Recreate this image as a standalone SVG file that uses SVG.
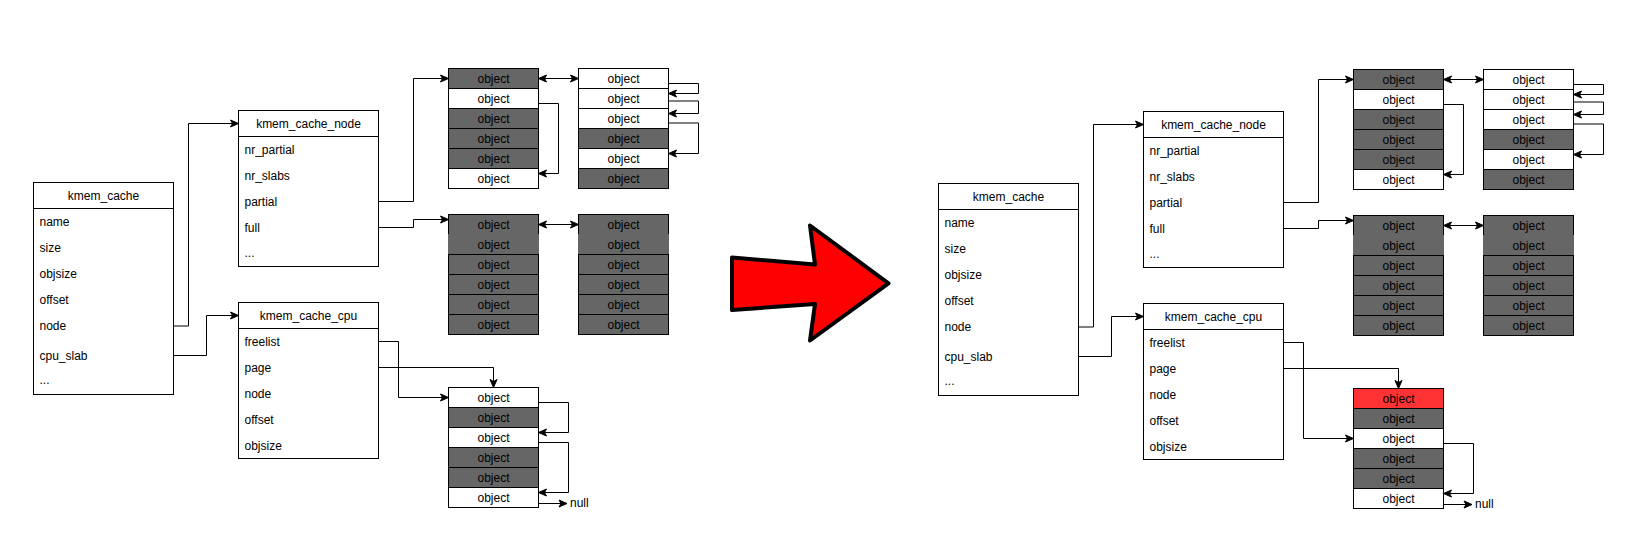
<svg xmlns="http://www.w3.org/2000/svg" width="1636" height="544" viewBox="0 0 1636 544">
<defs>
<style>
.bx{fill:#fff;stroke:#000;stroke-width:1}
.t{font-family:"Liberation Sans",Arial,Helvetica,sans-serif;font-size:12px;fill:#000}
.c{text-anchor:middle}
.w{fill:#fff;stroke:#000;stroke-width:1}
.g{fill:#666666;stroke:#000;stroke-width:1}
.gn{fill:#666666;stroke:none}
.r{fill:#ff3333;stroke:#000;stroke-width:1}
.e{fill:none;stroke:#000;stroke-width:1}
.a{marker-end:url(#ah)}
.d{marker-start:url(#ah);marker-end:url(#ah)}
</style>
<marker id="ah" viewBox="0 0 10 10" refX="9" refY="5" markerWidth="10" markerHeight="10" markerUnits="userSpaceOnUse" orient="auto-start-reverse">
<path d="M1,1.5 L9,5 L1,8.5 L3,5 Z" fill="#000" stroke="#000" stroke-width="1"/>
</marker>
</defs>
<rect width="1636" height="544" fill="#fff"/>

<!-- LEFT HALF -->
<g id="left">
<g id="kmem_cache_L">
<rect class="bx" x="33.5" y="182.5" width="140" height="212"/>
<line class="e" x1="33.5" y1="208.5" x2="173.5" y2="208.5"/>
<text class="t c" x="103.5" y="200">kmem_cache</text>
<text class="t" x="39.5" y="225.5">name</text>
<text class="t" x="39.5" y="251.5">size</text>
<text class="t" x="39.5" y="277.5">objsize</text>
<text class="t" x="39.5" y="303.5">offset</text>
<text class="t" x="39.5" y="329.5">node</text>
<text class="t" x="39.5" y="359.5">cpu_slab</text>
<text class="t" x="39.5" y="383.5">...</text>
</g>
<g id="kmem_cache_node_L">
<rect class="bx" x="238.5" y="110.5" width="140" height="156"/>
<line class="e" x1="238.5" y1="136.5" x2="378.5" y2="136.5"/>
<text class="t c" x="308.5" y="128">kmem_cache_node</text>
<text class="t" x="244.5" y="153.5">nr_partial</text>
<text class="t" x="244.5" y="179.5">nr_slabs</text>
<text class="t" x="244.5" y="205.5">partial</text>
<text class="t" x="244.5" y="231.5">full</text>
<text class="t" x="244.5" y="257">...</text>
</g>
<g id="kmem_cache_cpu_L">
<rect class="bx" x="238.5" y="302.5" width="140" height="156"/>
<line class="e" x1="238.5" y1="328.5" x2="378.5" y2="328.5"/>
<text class="t c" x="308.5" y="320">kmem_cache_cpu</text>
<text class="t" x="244.5" y="345.5">freelist</text>
<text class="t" x="244.5" y="371.5">page</text>
<text class="t" x="244.5" y="397.5">node</text>
<text class="t" x="244.5" y="423.5">offset</text>
<text class="t" x="244.5" y="449.5">objsize</text>
</g>
<g id="slab_partial1_L" transform="translate(448.5,68.5)">
<rect class="g" x="0" y="0" width="90" height="20"/><text class="t c" x="45" y="14">object</text>
<rect class="w" x="0" y="20" width="90" height="20"/><text class="t c" x="45" y="34">object</text>
<rect class="g" x="0" y="40" width="90" height="20"/><text class="t c" x="45" y="54">object</text>
<rect class="g" x="0" y="60" width="90" height="20"/><text class="t c" x="45" y="74">object</text>
<rect class="g" x="0" y="80" width="90" height="20"/><text class="t c" x="45" y="94">object</text>
<rect class="w" x="0" y="100" width="90" height="20"/><text class="t c" x="45" y="114">object</text>
</g>
<g id="slab_partial2_L" transform="translate(578.5,68.5)">
<rect class="w" x="0" y="0" width="90" height="20"/><text class="t c" x="45" y="14">object</text>
<rect class="w" x="0" y="20" width="90" height="20"/><text class="t c" x="45" y="34">object</text>
<rect class="w" x="0" y="40" width="90" height="20"/><text class="t c" x="45" y="54">object</text>
<rect class="g" x="0" y="60" width="90" height="20"/><text class="t c" x="45" y="74">object</text>
<rect class="w" x="0" y="80" width="90" height="20"/><text class="t c" x="45" y="94">object</text>
<rect class="g" x="0" y="100" width="90" height="20"/><text class="t c" x="45" y="114">object</text>
</g>
<g id="slab_full1_L" transform="translate(448.5,214.5)">
<rect class="g" x="0" y="0" width="90" height="20"/><text class="t c" x="45" y="14">object</text>
<rect class="gn" x="-0.5" y="19.5" width="91" height="20.5"/><text class="t c" x="45" y="34">object</text>
<rect class="g" x="0" y="40" width="90" height="20"/><text class="t c" x="45" y="54">object</text>
<rect class="g" x="0" y="60" width="90" height="20"/><text class="t c" x="45" y="74">object</text>
<rect class="g" x="0" y="80" width="90" height="20"/><text class="t c" x="45" y="94">object</text>
<rect class="g" x="0" y="100" width="90" height="20"/><text class="t c" x="45" y="114">object</text>
</g>
<g id="slab_full2_L" transform="translate(578.5,214.5)">
<rect class="g" x="0" y="0" width="90" height="20"/><text class="t c" x="45" y="14">object</text>
<rect class="gn" x="-0.5" y="19.5" width="91" height="20.5"/><text class="t c" x="45" y="34">object</text>
<rect class="g" x="0" y="40" width="90" height="20"/><text class="t c" x="45" y="54">object</text>
<rect class="g" x="0" y="60" width="90" height="20"/><text class="t c" x="45" y="74">object</text>
<rect class="g" x="0" y="80" width="90" height="20"/><text class="t c" x="45" y="94">object</text>
<rect class="g" x="0" y="100" width="90" height="20"/><text class="t c" x="45" y="114">object</text>
</g>
<g id="slab_cpu_L" transform="translate(448.5,387.5)">
<rect class="w" x="0" y="0" width="90" height="20"/><text class="t c" x="45" y="14">object</text>
<rect class="g" x="0" y="20" width="90" height="20"/><text class="t c" x="45" y="34">object</text>
<rect class="w" x="0" y="40" width="90" height="20"/><text class="t c" x="45" y="54">object</text>
<rect class="g" x="0" y="60" width="90" height="20"/><text class="t c" x="45" y="74">object</text>
<rect class="g" x="0" y="80" width="90" height="20"/><text class="t c" x="45" y="94">object</text>
<rect class="w" x="0" y="100" width="90" height="20"/><text class="t c" x="45" y="114">object</text>
</g>
<g id="null_L"><text class="t" x="570" y="507">null</text></g>
<g id="connectors_L">
<path class="e a" d="M173.5,326 H188.5 V123.5 H238.5"/>
<path class="e a" d="M173.5,355.5 H206.5 V315.5 H238.5"/>
<path class="e a" d="M378.5,201.5 H413.5 V78.5 H448.5"/>
<path class="e a" d="M378.5,227.5 H413.5 V219.5 H448.5"/>
<path class="e d" d="M538.5,78.5 H578.5"/>
<path class="e a" d="M538.5,103.5 H558.5 V173.5 H538.5"/>
<path class="e a" d="M668.5,83.5 H698.5 V93.5 H668.5"/>
<path class="e a" d="M668.5,101 H698.5 V113.5 H668.5"/>
<path class="e a" d="M668.5,123 H698.5 V153.5 H668.5"/>
<path class="e d" d="M538.5,224.5 H578.5"/>
<path class="e a" d="M378.5,341.5 H398.5 V397.5 H448.5"/>
<path class="e a" d="M378.5,367.5 H493.5 V387.5"/>
<path class="e a" d="M538.5,402.5 H568.5 V432.5 H538.5"/>
<path class="e a" d="M538.5,442.5 H568.5 V492.5 H538.5"/>
<path class="e a" d="M538.5,503.5 H567"/>
</g>
</g>

<!-- BIG ARROW -->
<g id="big_arrow">
<polygon points="732,257.5 815,264.5 810,225.5 888.5,283.3 810,340.5 815,304 732,310" fill="#ff0000" stroke="#000" stroke-width="4" stroke-linejoin="round"/>
</g>

<!-- RIGHT HALF -->
<g id="right" transform="translate(905,1)">
<g id="kmem_cache_R">
<rect class="bx" x="33.5" y="182.5" width="140" height="212"/>
<line class="e" x1="33.5" y1="208.5" x2="173.5" y2="208.5"/>
<text class="t c" x="103.5" y="200">kmem_cache</text>
<text class="t" x="39.5" y="225.5">name</text>
<text class="t" x="39.5" y="251.5">size</text>
<text class="t" x="39.5" y="277.5">objsize</text>
<text class="t" x="39.5" y="303.5">offset</text>
<text class="t" x="39.5" y="329.5">node</text>
<text class="t" x="39.5" y="359.5">cpu_slab</text>
<text class="t" x="39.5" y="383.5">...</text>
</g>
<g id="kmem_cache_node_R">
<rect class="bx" x="238.5" y="110.5" width="140" height="156"/>
<line class="e" x1="238.5" y1="136.5" x2="378.5" y2="136.5"/>
<text class="t c" x="308.5" y="128">kmem_cache_node</text>
<text class="t" x="244.5" y="153.5">nr_partial</text>
<text class="t" x="244.5" y="179.5">nr_slabs</text>
<text class="t" x="244.5" y="205.5">partial</text>
<text class="t" x="244.5" y="231.5">full</text>
<text class="t" x="244.5" y="257">...</text>
</g>
<g id="kmem_cache_cpu_R">
<rect class="bx" x="238.5" y="302.5" width="140" height="156"/>
<line class="e" x1="238.5" y1="328.5" x2="378.5" y2="328.5"/>
<text class="t c" x="308.5" y="320">kmem_cache_cpu</text>
<text class="t" x="244.5" y="345.5">freelist</text>
<text class="t" x="244.5" y="371.5">page</text>
<text class="t" x="244.5" y="397.5">node</text>
<text class="t" x="244.5" y="423.5">offset</text>
<text class="t" x="244.5" y="449.5">objsize</text>
</g>
<g id="slab_partial1_R" transform="translate(448.5,68.5)">
<rect class="g" x="0" y="0" width="90" height="20"/><text class="t c" x="45" y="14">object</text>
<rect class="w" x="0" y="20" width="90" height="20"/><text class="t c" x="45" y="34">object</text>
<rect class="g" x="0" y="40" width="90" height="20"/><text class="t c" x="45" y="54">object</text>
<rect class="g" x="0" y="60" width="90" height="20"/><text class="t c" x="45" y="74">object</text>
<rect class="g" x="0" y="80" width="90" height="20"/><text class="t c" x="45" y="94">object</text>
<rect class="w" x="0" y="100" width="90" height="20"/><text class="t c" x="45" y="114">object</text>
</g>
<g id="slab_partial2_R" transform="translate(578.5,68.5)">
<rect class="w" x="0" y="0" width="90" height="20"/><text class="t c" x="45" y="14">object</text>
<rect class="w" x="0" y="20" width="90" height="20"/><text class="t c" x="45" y="34">object</text>
<rect class="w" x="0" y="40" width="90" height="20"/><text class="t c" x="45" y="54">object</text>
<rect class="g" x="0" y="60" width="90" height="20"/><text class="t c" x="45" y="74">object</text>
<rect class="w" x="0" y="80" width="90" height="20"/><text class="t c" x="45" y="94">object</text>
<rect class="g" x="0" y="100" width="90" height="20"/><text class="t c" x="45" y="114">object</text>
</g>
<g id="slab_full1_R" transform="translate(448.5,214.5)">
<rect class="g" x="0" y="0" width="90" height="20"/><text class="t c" x="45" y="14">object</text>
<rect class="gn" x="-0.5" y="19.5" width="91" height="20.5"/><text class="t c" x="45" y="34">object</text>
<rect class="g" x="0" y="40" width="90" height="20"/><text class="t c" x="45" y="54">object</text>
<rect class="g" x="0" y="60" width="90" height="20"/><text class="t c" x="45" y="74">object</text>
<rect class="g" x="0" y="80" width="90" height="20"/><text class="t c" x="45" y="94">object</text>
<rect class="g" x="0" y="100" width="90" height="20"/><text class="t c" x="45" y="114">object</text>
</g>
<g id="slab_full2_R" transform="translate(578.5,214.5)">
<rect class="g" x="0" y="0" width="90" height="20"/><text class="t c" x="45" y="14">object</text>
<rect class="gn" x="-0.5" y="19.5" width="91" height="20.5"/><text class="t c" x="45" y="34">object</text>
<rect class="g" x="0" y="40" width="90" height="20"/><text class="t c" x="45" y="54">object</text>
<rect class="g" x="0" y="60" width="90" height="20"/><text class="t c" x="45" y="74">object</text>
<rect class="g" x="0" y="80" width="90" height="20"/><text class="t c" x="45" y="94">object</text>
<rect class="g" x="0" y="100" width="90" height="20"/><text class="t c" x="45" y="114">object</text>
</g>
<g id="slab_cpu_R" transform="translate(448.5,387.5)">
<rect class="r" x="0" y="0" width="90" height="20"/><text class="t c" x="45" y="14">object</text>
<rect class="g" x="0" y="20" width="90" height="20"/><text class="t c" x="45" y="34">object</text>
<rect class="w" x="0" y="40" width="90" height="20"/><text class="t c" x="45" y="54">object</text>
<rect class="g" x="0" y="60" width="90" height="20"/><text class="t c" x="45" y="74">object</text>
<rect class="g" x="0" y="80" width="90" height="20"/><text class="t c" x="45" y="94">object</text>
<rect class="w" x="0" y="100" width="90" height="20"/><text class="t c" x="45" y="114">object</text>
</g>
<g id="null_R"><text class="t" x="570" y="507">null</text></g>
<g id="connectors_R">
<path class="e a" d="M173.5,326 H188.5 V123.5 H238.5"/>
<path class="e a" d="M173.5,355.5 H206.5 V315.5 H238.5"/>
<path class="e a" d="M378.5,201.5 H413.5 V78.5 H448.5"/>
<path class="e a" d="M378.5,227.5 H413.5 V219.5 H448.5"/>
<path class="e d" d="M538.5,78.5 H578.5"/>
<path class="e a" d="M538.5,103.5 H558.5 V173.5 H538.5"/>
<path class="e a" d="M668.5,83.5 H698.5 V93.5 H668.5"/>
<path class="e a" d="M668.5,101 H698.5 V113.5 H668.5"/>
<path class="e a" d="M668.5,123 H698.5 V153.5 H668.5"/>
<path class="e d" d="M538.5,224.5 H578.5"/>
<path class="e a" d="M378.5,341.5 H398.5 V437.5 H448.5"/>
<path class="e a" d="M378.5,367.5 H493.5 V387.5"/>
<path class="e a" d="M538.5,442.5 H568.5 V492.5 H538.5"/>
<path class="e a" d="M538.5,503.5 H567"/>
</g>
</g>
</svg>
